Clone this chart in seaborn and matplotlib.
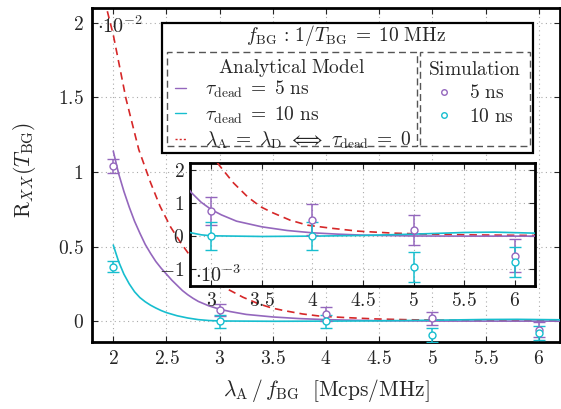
import numpy as np
import pandas as pd
import matplotlib
matplotlib.use("Agg")
import matplotlib.pyplot as plt
import seaborn as sns
from matplotlib.lines import Line2D
from matplotlib.patches import Rectangle
from matplotlib.ticker import FuncFormatter, MultipleLocator

# ---------------- data (absolute values of R_XX) ----------------
model5_x = [2.0, 2.05, 2.1, 2.15, 2.2, 2.25, 2.3, 2.35, 2.4, 2.45, 2.5, 2.55, 2.6, 2.65,
            2.7, 2.75, 2.8, 2.9, 3.0, 3.1, 3.25, 3.5, 3.75, 4.0, 4.25, 4.5, 5.0, 5.5, 6.2]
model5_y = [1.14e-2, 0.99e-2, 0.87e-2, 0.765e-2, 0.67e-2, 0.59e-2, 0.515e-2, 0.455e-2,
            0.40e-2, 0.355e-2, 0.315e-2, 0.275e-2, 0.24e-2, 0.205e-2, 0.177e-2, 0.153e-2,
            1.32e-3, 1.02e-3, 0.80e-3, 0.64e-3, 0.45e-3, 0.28e-3, 0.17e-3, 0.10e-3,
            0.06e-3, 0.03e-3, 0.005e-3, 0.0, 0.0]

model10_x = [2.0, 2.05, 2.1, 2.15, 2.2, 2.25, 2.3, 2.35, 2.4, 2.45, 2.5, 2.6, 2.7, 2.8,
             2.9, 3.0, 3.5, 4.0, 4.5, 5.0, 5.5, 5.8, 6.2]
model10_y = [0.51e-2, 0.40e-2, 0.315e-2, 0.25e-2, 0.197e-2, 0.158e-2, 0.13e-2, 0.107e-2,
             0.088e-2, 0.071e-2, 0.057e-2, 0.036e-2, 0.021e-2, 0.10e-3, 0.04e-3, 0.01e-3,
             -0.01e-3, 0.0, 0.02e-3, 0.06e-3, 0.11e-3, 0.12e-3, 0.09e-3]

ideal_x = [1.88, 1.94, 2.0, 2.12, 2.24, 2.35, 2.44, 2.54, 2.63, 2.71, 2.85, 3.0, 3.09,
           3.22, 3.36, 3.49, 3.61, 3.78, 3.95, 4.18, 4.45, 4.8, 5.14, 5.5, 6.2]
ideal_y = [2.3e-2, 2.09e-2, 1.92e-2, 1.49e-2, 1.15e-2, 0.93e-2, 0.77e-2, 0.63e-2,
           0.53e-2, 0.45e-2, 0.33e-2, 2.45e-3, 2.09e-3, 1.6e-3, 1.18e-3, 0.88e-3,
           0.7e-3, 0.48e-3, 0.33e-3, 0.24e-3, 0.15e-3, 0.09e-3, 0.06e-3, 0.04e-3,
           0.02e-3]

sim_x = [2, 3, 4, 5, 6]
sim5_y = [1.04e-2, 0.76e-3, 0.50e-3, 0.18e-3, -0.59e-3]
sim5_err = [0.45e-3, 0.42e-3, 0.47e-3, 0.45e-3, 0.50e-3]
sim10_y = [0.365e-2, 0.0, 0.0, -0.94e-3, -0.79e-3]
sim10_err = [0.35e-3, 0.43e-3, 0.43e-3, 0.45e-3, 0.45e-3]

PURPLE = "#9467bd"
CYAN = "#17becf"
RED = "#d62728"

# ---------------- style ----------------
sns.set_style("ticks")
plt.rcParams.update({
    "mathtext.fontset": "cm",
    "font.family": ["DejaVu Serif"],
    "font.size": 13,
})

W, H = 561, 409
fig = plt.figure(figsize=(W / 100, H / 100), dpi=100)


def fx(px):
    return px / W


def fy(py):
    return 1 - py / H


ax = fig.add_axes([fx(92), fy(342), (560 - 92) / W, (342 - 8) / H])
axi = fig.add_axes([fx(190), fy(286), (535 - 190) / W, (286 - 163) / H])

mfmt = FuncFormatter(lambda v, p: f"${v:g}$")
TICKFS = 14


def draw(a, scale):
    d5 = pd.DataFrame({"x": model5_x, "y": np.array(model5_y) / scale})
    d10 = pd.DataFrame({"x": model10_x, "y": np.array(model10_y) / scale})
    di = pd.DataFrame({"x": ideal_x, "y": np.array(ideal_y) / scale})
    sns.lineplot(data=di, x="x", y="y", ax=a, color=RED, lw=1.2,
                 linestyle=(0, (4.5, 3)), zorder=3, sort=False)
    sns.lineplot(data=d5, x="x", y="y", ax=a, color=PURPLE, lw=1.2, zorder=3, sort=False)
    sns.lineplot(data=d10, x="x", y="y", ax=a, color=CYAN, lw=1.2, zorder=3, sort=False)
    for ys, es, c in [(sim5_y, sim5_err, PURPLE), (sim10_y, sim10_err, CYAN)]:
        a.errorbar(sim_x, np.array(ys) / scale, yerr=np.array(es) / scale, fmt="o",
                   color=c, mfc="white", mec=c, ms=5, mew=1.0, elinewidth=1.1,
                   capsize=4, capthick=1.1, zorder=4)
    a.grid(True, linestyle=(0, (1, 3)), color="#aaaaaa", lw=0.8)
    a.tick_params(direction="in", top=True, right=True, length=4, width=0.8,
                  labelsize=TICKFS, pad=6)
    a.xaxis.set_major_formatter(mfmt)
    a.yaxis.set_major_formatter(mfmt)
    a.set_xlabel("")
    a.set_ylabel("")
    for s in a.spines.values():
        s.set_linewidth(2.0)
        s.set_color("black")


draw(ax, 1e-2)
ax.set_xlim(1.8, 6.2)
ax.set_ylim(-0.14, 2.1)
ax.xaxis.set_major_locator(MultipleLocator(0.5))
ax.yaxis.set_major_locator(MultipleLocator(0.5))

draw(axi, 1e-3)
axi.set_facecolor("white")
axi.set_xlim(2.79, 6.2)
axi.set_ylim(-1.5, 2.2)
axi.xaxis.set_major_locator(MultipleLocator(0.5))
axi.yaxis.set_major_locator(MultipleLocator(1))
axi.tick_params(pad=4)

# offset texts
fig.text(fx(97), fy(33), r"$\cdot 10^{-2}$", fontsize=14.5, va="baseline", ha="left", zorder=6)
fig.text(fx(195), fy(282), r"$\cdot 10^{-3}$", fontsize=14.5, va="baseline", ha="left", zorder=6)

# axis labels
fig.text(fx(25), fy(170), r"$\mathrm{R}_{XX}(T_{\mathrm{BG}})$", rotation=90,
         ha="center", va="center", fontsize=15.5)
fig.text(fx(326), fy(390), r"$\lambda_{\mathrm{A}}\,/\,f_{\mathrm{BG}}\ \ [\mathrm{Mcps/MHz}]$",
         ha="center", va="center", fontsize=15.5)

# legend composite
outer = Rectangle((fx(162), fy(153)), (533 - 162) / W, (153 - 23) / H,
                  transform=fig.transFigure, fc="white", ec="black", lw=1.6, zorder=4)
fig.add_artist(outer)
for (x0, x1) in [(167, 417), (420, 530)]:
    r = Rectangle((fx(x0), fy(146)), (x1 - x0) / W, (146 - 52) / H,
                  transform=fig.transFigure, fc="none", ec="#555555", lw=1.0,
                  linestyle=(0, (5, 3)), zorder=5)
    fig.add_artist(r)
LFS = 14
fig.text(fx(346), fy(36), r"$f_{\mathrm{BG}}\,:\,1/T_{\mathrm{BG}}\;=\;10\ \mathrm{MHz}$",
         ha="center", va="center", fontsize=LFS, zorder=6)
fig.text(fx(292), fy(68), r"$\mathrm{Analytical\ Model}$",
         ha="center", va="center", fontsize=LFS, zorder=6)

h1 = [Line2D([], [], color=PURPLE, lw=1.0),
      Line2D([], [], color=CYAN, lw=1.0),
      Line2D([], [], color=RED, lw=1.0, linestyle=(0, (1.5, 1.5)))]
l1 = [r"$\tau_{\mathrm{dead}}\;=\;5\ \mathrm{ns}$",
      r"$\tau_{\mathrm{dead}}\;=\;10\ \mathrm{ns}$",
      r"$\lambda_{\mathrm{A}}\;=\;\lambda_{\mathrm{D}}\ \Longleftrightarrow\ \tau_{\mathrm{dead}}\;=\;0$"]
leg1 = fig.legend(h1, l1, loc="upper left",
                  bbox_to_anchor=(fx(175), fy(79)), frameon=False, fontsize=LFS,
                  handlelength=0.55, handletextpad=1.0,
                  labelspacing=0.2, borderpad=0, borderaxespad=0)
leg1.set_zorder(7)

h2 = [Line2D([], [], color=PURPLE, marker="o", ls="none", ms=4, mfc="white", mew=1.0),
      Line2D([], [], color=CYAN, marker="o", ls="none", ms=4, mfc="white", mew=1.0)]
l2 = [r"$5\ \mathrm{ns}$", r"$10\ \mathrm{ns}$"]
leg2 = fig.legend(h2, l2, title=r"$\mathrm{Simulation}$", loc="upper center",
                  bbox_to_anchor=(fx(475), fy(61)), frameon=False, fontsize=LFS,
                  title_fontsize=LFS, handlelength=0.8, handletextpad=0.9,
                  labelspacing=0.28, borderpad=0, borderaxespad=0)
leg2.set_zorder(7)

fig.savefig("out.png", dpi=100)
